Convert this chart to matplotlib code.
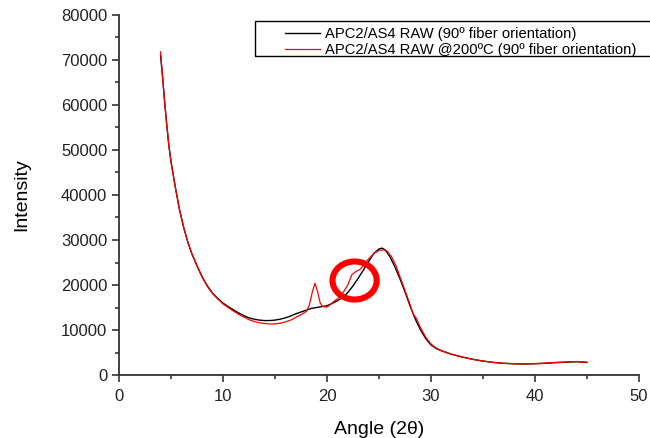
import matplotlib.pyplot as plt
from matplotlib.patches import Ellipse, Rectangle
from matplotlib.ticker import MultipleLocator

plt.rcParams['font.family'] = ['Liberation Sans', 'DejaVu Sans']

# XRD scan, as received (90 deg fiber orientation)
angle_raw = [4.0, 4.2, 4.4, 4.6, 4.8, 5.0, 5.4, 5.8, 6.2, 6.6, 7.0, 7.5, 8.0, 8.5,
             9.0, 9.5, 10.0, 10.5, 11.0, 11.5, 12.0, 12.5, 13.0, 13.5, 14.0, 14.5,
             15.0, 15.5, 16.0, 16.5, 17.0, 17.5, 18.0, 18.5, 19.0, 19.5, 20.0, 20.5,
             21.0, 21.5, 22.0, 22.5, 23.0, 23.5, 24.0, 24.5, 25.0, 25.3, 25.6, 26.0,
             26.5, 27.0, 27.5, 28.0, 28.5, 29.0, 29.5, 30.0, 30.5, 31.0, 32.0, 33.0,
             34.0, 35.0, 36.0, 37.0, 38.0, 39.0, 40.0, 41.0, 42.0, 43.0, 44.0, 45.0]
int_raw = [71000, 66000, 60500, 55500, 51000, 47500, 42000, 37000, 33000, 29700,
           27000, 24300, 21800, 19800, 18200, 17000, 16000, 15200, 14500, 13800,
           13200, 12700, 12400, 12200, 12100, 12100, 12200, 12400, 12700, 13100,
           13600, 14000, 14400, 14800, 15000, 15200, 15400, 15900, 16500, 17200,
           18300, 19800, 21500, 23300, 25200, 27000, 28000, 28200, 27800, 26500,
           24200, 21500, 18500, 15300, 12400, 10000, 8100, 6700, 5900, 5400,
           4600, 4000, 3500, 3100, 2800, 2600, 2500, 2450, 2500, 2600, 2750,
           2850, 2950, 2800]

# XRD scan after 200 C treatment
angle_200 = [4.0, 4.2, 4.4, 4.6, 4.8, 5.0, 5.4, 5.8, 6.2, 6.6, 7.0, 7.5, 8.0, 8.5,
             9.0, 9.5, 10.0, 10.5, 11.0, 11.5, 12.0, 12.5, 13.0, 13.5, 14.0, 14.5,
             15.0, 15.5, 16.0, 16.5, 17.0, 17.5, 18.0, 18.3, 18.6, 18.85, 19.1,
             19.35, 19.6, 20.0, 20.4, 20.8, 21.2, 21.6, 22.0, 22.4, 22.8, 23.2,
             23.6, 24.0, 24.5, 25.0, 25.5, 25.8, 26.2, 26.6, 27.0, 27.5, 28.0,
             28.3, 28.6, 29.0, 29.5, 30.0, 30.5, 31.0, 32.0, 33.0, 34.0, 35.0,
             36.0, 37.0, 38.0, 39.0, 40.0, 41.0, 42.0, 43.0, 44.0, 45.0]
int_200 = [71800, 66200, 60500, 55500, 51000, 47500, 42000, 37000, 33000, 29700,
           27000, 24300, 21800, 19700, 18100, 16900, 15800, 15000, 14200, 13500,
           12900, 12300, 11900, 11600, 11450, 11350, 11350, 11500, 11800, 12200,
           12800, 13400, 14100, 15500, 18500, 20400, 18500, 16000, 15200, 15100,
           15800, 16600, 17300, 18500, 20000, 22300, 23000, 23500, 24600, 25800,
           27000, 27700, 27800, 27500, 26300, 24500, 22000, 18800, 15600, 13500,
           12600, 10500, 8400, 6900, 6000, 5400, 4600, 4000, 3500, 3100, 2800,
           2600, 2500, 2450, 2550, 2650, 2800, 2900, 3000, 2850]

labels = ['APC2/AS4 RAW (90º fiber orientation)',
          'APC2/AS4 RAW @200ºC (90º fiber orientation)']

fig = plt.figure(figsize=(6.5, 4.38), dpi=100)
ax = fig.add_axes([0.183, 0.1438, 0.8, 0.822])

ax.plot(angle_raw, int_raw, color='black', lw=1.0, label=labels[0])
ax.plot(angle_200, int_200, color='#ff0000', lw=0.9, label=labels[1])

# highlight the shoulder near 23 deg
ax.add_patch(Ellipse((22.66, 21000), 4.25, 8450, fill=False,
                     edgecolor='#ff0000', lw=4.4, zorder=5))

ax.set_xlim(0, 50)
ax.set_ylim(0, 80000)
ax.xaxis.set_major_locator(MultipleLocator(10))
ax.xaxis.set_minor_locator(MultipleLocator(5))
ax.yaxis.set_major_locator(MultipleLocator(10000))
ax.yaxis.set_minor_locator(MultipleLocator(5000))

for s in ['top', 'right']:
    ax.spines[s].set_visible(False)
for s in ['left', 'bottom']:
    ax.spines[s].set_linewidth(1.3)
    ax.spines[s].set_color('#333333')
ax.tick_params(which='major', direction='out', length=5, width=1.2,
               color='#333333', labelsize=12, labelcolor='#222222')
ax.tick_params(axis='x', which='major', pad=5)
ax.tick_params(which='minor', direction='out', length=3, width=1.2,
               color='#333333')

ax.set_xlabel('Angle (2θ)', fontsize=14, labelpad=12)
ax.set_ylabel('Intensity', fontsize=14, labelpad=22)

# legend box
fig.patches.append(Rectangle((255 / 650, 1 - 56 / 438), 400 / 650, 35 / 438,
                             transform=fig.transFigure, fill=False,
                             edgecolor='black', lw=1.0))
ax.legend(loc='upper left', bbox_to_anchor=(285 / 650, 1 - 27 / 438),
          bbox_transform=fig.transFigure, frameon=False, fontsize=10.6,
          borderpad=0, borderaxespad=0, handlelength=2.4, handletextpad=0.3,
          labelspacing=0.15)

fig.savefig('out.png', dpi=100)
